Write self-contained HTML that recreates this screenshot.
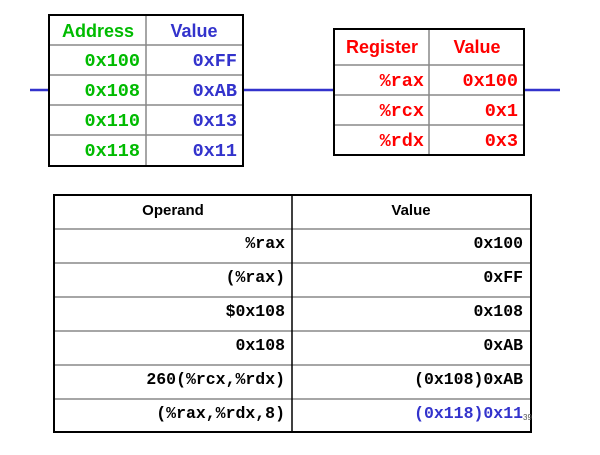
<!DOCTYPE html>
<html><head><meta charset="utf-8"><style>
body{margin:0;background:#fff;width:600px;height:450px;overflow:hidden}
svg text{font-family:"Liberation Mono",monospace;font-weight:bold;font-size:18.5px}
.h{font-family:"Liberation Sans",sans-serif;font-weight:bold;font-size:18px}
.h2{font-family:"Liberation Sans",sans-serif;font-weight:bold;font-size:15px}
.s{font-size:16.5px}
</style></head><body>
<svg width="600" height="450" xmlns="http://www.w3.org/2000/svg">
<g stroke="#3333cc" stroke-width="2.5">
<line x1="30" y1="90" x2="49" y2="90"/><line x1="243" y1="90" x2="334" y2="90"/><line x1="524" y1="90" x2="560" y2="90"/>
</g>
<g stroke="#888" stroke-width="1.5">
<line x1="49" y1="45" x2="243" y2="45"/><line x1="49" y1="75" x2="243" y2="75"/><line x1="49" y1="105" x2="243" y2="105"/><line x1="49" y1="135" x2="243" y2="135"/>
<line x1="146" y1="15" x2="146" y2="166"/>
<line x1="334" y1="65" x2="524" y2="65"/><line x1="334" y1="95" x2="524" y2="95"/><line x1="334" y1="125" x2="524" y2="125"/>
<line x1="429" y1="29" x2="429" y2="155"/>
</g>
<rect x="49" y="15" width="194" height="151" fill="none" stroke="#000" stroke-width="2"/>
<rect x="334" y="29" width="190" height="126" fill="none" stroke="#000" stroke-width="2"/>
<text class="h" x="98" y="37" fill="#00bb00" text-anchor="middle">Address</text>
<text class="h" x="194" y="37" fill="#3333cc" text-anchor="middle">Value</text>
<g fill="#00bb00" text-anchor="end">
<text x="140" y="66">0x100</text><text x="140" y="96">0x108</text><text x="140" y="126">0x110</text><text x="140" y="156">0x118</text>
</g>
<g fill="#3333cc" text-anchor="end">
<text x="237" y="66">0xFF</text><text x="237" y="96">0xAB</text><text x="237" y="126">0x13</text><text x="237" y="156">0x11</text>
</g>
<g fill="#ff0000">
<text class="h" x="382" y="53" text-anchor="middle">Register</text>
<text class="h" x="477" y="53" text-anchor="middle">Value</text>
<g text-anchor="end">
<text x="424" y="86">%rax</text><text x="424" y="116">%rcx</text><text x="424" y="146">%rdx</text>
<text x="518" y="86">0x100</text><text x="518" y="116">0x1</text><text x="518" y="146">0x3</text>
</g></g>
<g stroke="#888" stroke-width="1.5">
<line x1="54" y1="229" x2="531" y2="229"/><line x1="54" y1="263" x2="531" y2="263"/><line x1="54" y1="297" x2="531" y2="297"/><line x1="54" y1="331" x2="531" y2="331"/><line x1="54" y1="365" x2="531" y2="365"/><line x1="54" y1="399" x2="531" y2="399"/>
</g>
<line x1="292" y1="195" x2="292" y2="432" stroke="#000" stroke-width="1.5"/>
<rect x="54" y="195" width="477" height="237" fill="none" stroke="#000" stroke-width="2"/>
<text class="h2" x="173" y="215" text-anchor="middle">Operand</text>
<text class="h2" x="411" y="215" text-anchor="middle">Value</text>
<g text-anchor="end">
<text class="s" x="285" y="248">%rax</text>
<text class="s" x="285" y="282">(%rax)</text>
<text class="s" x="285" y="316">$0x108</text>
<text class="s" x="285" y="350">0x108</text>
<text class="s" x="285" y="384">260(%rcx,%rdx)</text>
<text class="s" x="285" y="418">(%rax,%rdx,8)</text>
<text class="s" x="523" y="248">0x100</text>
<text class="s" x="523" y="282">0xFF</text>
<text class="s" x="523" y="316">0x108</text>
<text class="s" x="523" y="350">0xAB</text>
<text class="s" x="523" y="384">(0x108)0xAB</text>
<text class="s" x="523" y="418" fill="#3333cc">(0x118)0x11</text>
</g>
<text x="523" y="420" style="font-size:8px;font-weight:normal;font-family:'Liberation Sans',sans-serif" fill="#555">39</text>
</svg>
</body></html>
